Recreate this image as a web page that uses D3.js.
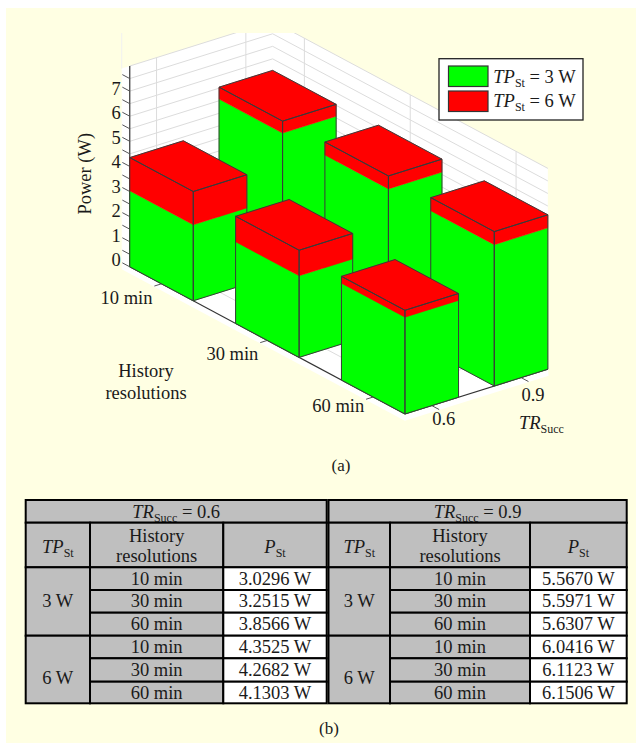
<!DOCTYPE html>
<html>
<head>
<meta charset="utf-8">
<script src="https://cdn.jsdelivr.net/npm/d3@7"></script>
<style>
    html, body { margin: 0; padding: 0; background: #fff; }
    svg { display: block; }
    text { font-family: "Liberation Serif", "Times New Roman", serif; font-size: 18.5px; fill: #1a1a1a; }
</style>
</head>
<body>
<div id="chart"></div>
<script>
const histories = ['10 min', '30 min', '60 min']
const trValues = ['0.6', '0.9']
const tpValues = ['3 W', '6 W']

// P_St: [TR][history]
const power3W = [[3.0296, 3.2515, 3.8566], [5.5670, 5.5971, 5.6307]]
const power6W = [[4.3525, 4.2682, 4.1303], [6.0416, 6.1123, 6.1506]]

const zTicks = d3.range(0, 8.5, 0.5)
const zLabels = [0, 1, 2, 3, 4, 5, 6, 7]

const width = 636, height = 744
const green = '#00ff00', red = '#ff0000', edge = '#3a3a3a', cream = '#ffffe3', cellGray = '#bfbfbf'

const svg = d3.select('#chart').append('svg')
    .attr('width', width)
    .attr('height', height)

svg.append('rect')
    .attr('x', 6).attr('y', 8)
    .attr('width', 630).attr('height', 735)
    .attr('fill', cream)

// oblique projection of the 3d axes, built out of three linear scales
const hX = d3.scaleLinear().domain([0, 1]).range([0, 105.85])
const hY = d3.scaleLinear().domain([0, 1]).range([0, 56.6])
const tX = d3.scaleLinear().domain([0, 1]).range([0, 89.3])
const tY = d3.scaleLinear().domain([0, 1]).range([0, -28])
const zY = d3.scaleLinear().domain([0, 8]).range([0, -200.8])
const origin = [188.3, 275.4]
const project = (h, t, z) => [origin[0] + hX(h) + tX(t), origin[1] + hY(h) + tY(t) + zY(z)]

const hMin = -0.3, hMax = 2.3, tMin = -0.3, tMax = 1.3, zMax = 8
const barHalf = 0.3

const closed = d3.line().curve(d3.curveLinearClosed)
const open = d3.line()

// text with italic / subscript runs
const richText = (parent, x, y, runs, anchor) => {
    const el = parent.append('text')
        .attr('x', x).attr('y', y)
        .attr('text-anchor', anchor || 'start')
        .attr('xml:space', 'preserve')
    let shift = 0
    runs.forEach(r => {
        const span = el.append('tspan').text(r.text)
        const target = r.sub ? 4 : 0
        if (target != shift) {
            span.attr('dy', target - shift)
            shift = target
        }
        if (r.italic) span.attr('font-style', 'italic')
        if (r.sub) span.style('font-size', '12px')
    })
    return el
}

// ---- walls and floor
svg.append('defs').append('clipPath').attr('id', 'topCrop')
    .append('rect').attr('x', 0).attr('y', 33).attr('width', width).attr('height', height)

const back = svg.append('g').attr('clip-path', 'url(#topCrop)')

back.append('path')
    .attr('d', closed([
        project(hMin, tMin - 0.09, zMax),
        project(hMin, tMin - 0.09, 0),
        project(hMax + 0.075, tMin - 0.09, 0),
        project(hMax + 0.075, tMax - 0.08, 0),
        project(hMax, tMax, 0),
        project(hMax, tMax, zMax),
        project(hMin, tMax, zMax)
    ]))
    .attr('fill', '#fff')

const gridLine = (a, b) => back.append('path')
    .attr('d', open([a, b]))
    .attr('fill', 'none')
    .attr('stroke', '#dcdcdc')
    .attr('stroke-width', 1)

zTicks.forEach(z => {
    gridLine(project(hMin, tMin, z), project(hMin, tMax, z))
    gridLine(project(hMin, tMax, z), project(hMax, tMax, z))
})
trValues.forEach((d, t) => {
    gridLine(project(hMin, t, 0), project(hMin, t, zMax))
    gridLine(project(hMin, t, 0), project(hMax, t, 0))
})
histories.forEach((d, h) => {
    gridLine(project(h, tMax, 0), project(h, tMax, zMax))
    gridLine(project(h, tMin, 0), project(h, tMax, 0))
})

// faint trace of the cropped wall edge, above the top left corner
back.append('path')
    .attr('d', open([project(hMin, tMin - 0.09, zMax), project(hMin, tMin - 0.09, zMax + 2)]))
    .attr('fill', 'none')
    .attr('stroke', '#f1f1f1')
    .attr('stroke-width', 1)

// ---- axes
const axisLine = (a, b, w, c) => svg.append('path')
    .attr('d', open([a, b]))
    .attr('fill', 'none')
    .attr('stroke', c || '#333')
    .attr('stroke-width', w || 1.2)

axisLine(project(hMin, tMin, 0), project(hMin, tMin, zMax))
axisLine(project(hMin, tMin, 0), project(hMax, tMin, 0))
axisLine(project(hMax, tMin, 0), project(hMax, tMax, 0))

zTicks.forEach(z => {
    if (z < zMax) axisLine(project(hMin, tMin, z), project(hMin - 0.07, tMin, z), 1, '#555')
})

// the printed numbers sit a little tighter than the ticks themselves
const zLabelY = d3.scaleLinear().domain([0, 7]).range([266, 95])
zLabels.forEach(z => {
    svg.append('text')
        .attr('x', project(hMin, tMin, z)[0] - 9)
        .attr('y', zLabelY(z))
        .attr('text-anchor', 'end')
        .text(z)
})
histories.forEach((d, h) => {
    axisLine(project(h, tMin, 0), project(h, tMin - 0.08, 0), 1, '#555')
    const p = project(h, tMin, 0)
    svg.append('text')
        .attr('x', p[0] - 9)
        .attr('y', p[1] + (h == 2 ? 15 : 20))
        .attr('text-anchor', 'end')
        .text(d)
})
trValues.forEach((d, t) => {
    axisLine(project(hMax, t, 0), project(hMax + 0.07, t, 0), 1, '#555')
    const p = project(hMax, t, 0)
    svg.append('text')
        .attr('x', p[0] + 12)
        .attr('y', p[1] + (t == 0 ? 19.5 : 23))
        .attr('text-anchor', 'middle')
        .text(d)
})

svg.append('text')
    .attr('transform', 'translate(91,173.7) rotate(-90)')
    .attr('text-anchor', 'middle')
    .text('Power (W)')

svg.append('text').attr('x', 146).attr('y', 377).attr('text-anchor', 'middle').text('History')
svg.append('text').attr('x', 146).attr('y', 399).attr('text-anchor', 'middle').text('resolutions')

richText(svg, 519, 429, [{ text: 'TR', italic: true }, { text: 'Succ', sub: true }])

// ---- bars, painted from the back to the front
const bars = []
trValues.slice().reverse().forEach((d, k) => {
    const t = trValues.length - 1 - k
    histories.forEach((name, h) => {
        bars.push({ h: h, t: t, low: power3W[t][h], high: power6W[t][h] })
    })
})

const barGroup = svg.selectAll('g.bar')
    .data(bars)
    .join('g')
    .attr('class', 'bar')

const leftFace = (d, z0, z1) => [
    project(d.h - barHalf, d.t - barHalf, z0),
    project(d.h + barHalf, d.t - barHalf, z0),
    project(d.h + barHalf, d.t - barHalf, z1),
    project(d.h - barHalf, d.t - barHalf, z1)
]
const rightFace = (d, z0, z1) => [
    project(d.h + barHalf, d.t - barHalf, z0),
    project(d.h + barHalf, d.t + barHalf, z0),
    project(d.h + barHalf, d.t + barHalf, z1),
    project(d.h + barHalf, d.t - barHalf, z1)
]
const topFace = (d, z) => [
    project(d.h - barHalf, d.t - barHalf, z),
    project(d.h + barHalf, d.t - barHalf, z),
    project(d.h + barHalf, d.t + barHalf, z),
    project(d.h - barHalf, d.t + barHalf, z)
]

barGroup.each(function (d) {
    const g = d3.select(this)
    const faces = [
        [leftFace(d, 0, d.low), green], [rightFace(d, 0, d.low), green],
        [leftFace(d, d.low, d.high), red], [rightFace(d, d.low, d.high), red],
        [topFace(d, d.high), red]
    ]
    faces.forEach(f => g.append('path')
        .attr('d', closed(f[0]))
        .attr('fill', f[1])
        .attr('stroke', f[1])
        .attr('stroke-width', 0.5))
    // outlines only round the whole column, none between the two colours
    const outlines = [leftFace(d, 0, d.high), rightFace(d, 0, d.high), topFace(d, d.high)]
    outlines.forEach(o => g.append('path')
        .attr('d', closed(o))
        .attr('fill', 'none')
        .attr('stroke', edge)
        .attr('stroke-width', 1))
})

// ---- legend
svg.append('rect')
    .attr('x', 439).attr('y', 58.7)
    .attr('width', 144).attr('height', 61.3)
    .attr('fill', '#fff')
    .attr('stroke', '#222')
    .attr('stroke-width', 1.3)

tpValues.forEach((d, i) => {
    svg.append('rect')
        .attr('x', 448.5).attr('y', 66 + i * 25)
        .attr('width', 39.5).attr('height', 20.5)
        .attr('fill', i == 0 ? green : red)
        .attr('stroke', '#333')
        .attr('stroke-width', 1.2)
    richText(svg, 493.3, 83.3 + i * 24, [
        { text: 'TP', italic: true }, { text: 'St', sub: true }, { text: ' = ' + d }
    ])
})

svg.append('text').attr('x', 341).attr('y', 471).attr('text-anchor', 'middle')
    .style('font-size', '17px').text('(a)')
svg.append('text').attr('x', 329).attr('y', 734).attr('text-anchor', 'middle')
    .style('font-size', '17px').text('(b)')

// ---- table
const rowEdges = [500, 522.7, 567.3, 590, 612.7, 635.7, 658.3, 681.7, 703.3]
const tables = [
    { cols: [25.7, 90, 223.3, 326.7], tr: 0 },
    { cols: [328.5, 390, 530, 626.7], tr: 1 }
]

const cell = (x0, y0, x1, y1, fill) => svg.append('rect')
    .attr('x', x0).attr('y', y0)
    .attr('width', x1 - x0).attr('height', y1 - y0)
    .attr('fill', fill)
    .attr('stroke', '#000')
    .attr('stroke-width', 2)

const centered = (x, y, s) => svg.append('text')
    .attr('x', x).attr('y', y)
    .attr('text-anchor', 'middle')
    .text(s)

tables.forEach(tb => {
    const c = tb.cols
    const mid = (a, b) => (a + b) / 2

    cell(c[0], rowEdges[0], c[3], rowEdges[1], cellGray)
    richText(svg, mid(c[0], c[3]), 518.3, [
        { text: 'TR', italic: true }, { text: 'Succ', sub: true }, { text: ' = ' + trValues[tb.tr] }
    ], 'middle')

    cell(c[0], rowEdges[1], c[1], rowEdges[2], cellGray)
    cell(c[1], rowEdges[1], c[2], rowEdges[2], cellGray)
    cell(c[2], rowEdges[1], c[3], rowEdges[2], cellGray)
    richText(svg, mid(c[0], c[1]), 552.7, [{ text: 'TP', italic: true }, { text: 'St', sub: true }], 'middle')
    centered(mid(c[1], c[2]), 541.7, 'History')
    centered(mid(c[1], c[2]), 561.7, 'resolutions')
    richText(svg, mid(c[2], c[3]), 552.7, [{ text: 'P', italic: true }, { text: 'St', sub: true }], 'middle')

    tpValues.forEach((tp, i) => {
        const rows = i == 0 ? power3W : power6W
        const start = 2 + i * 3
        cell(c[0], rowEdges[start], c[1], rowEdges[start + 3], cellGray)
        centered(mid(c[0], c[1]), i == 0 ? 606.7 : 684, tp)
        histories.forEach((name, h) => {
            const y0 = rowEdges[start + h], y1 = rowEdges[start + h + 1]
            cell(c[1], y0, c[2], y1, cellGray)
            cell(c[2], y0, c[3], y1, '#fff')
            centered(mid(c[1], c[2]), mid(y0, y1) + 6, name)
            centered(mid(c[2], c[3]), mid(y0, y1) + 6, rows[tb.tr][h].toFixed(4) + ' W')
        })
    })
})
</script>
</body>
</html>
